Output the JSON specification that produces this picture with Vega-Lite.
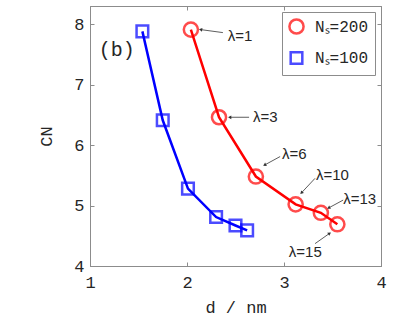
{
  "$schema": "https://vega.github.io/schema/vega-lite/v6.json",
  "width": 291,
  "height": 260,
  "autosize": "none",
  "padding": {"left": 90, "top": 6, "right": 26, "bottom": 66},
  "background": "white",
  "config": {
    "view": {"stroke": "#8c8c8c", "strokeWidth": 1},
    "axis": {
      "grid": false,
      "domainColor": "#8c8c8c",
      "tickColor": "#8c8c8c",
      "labelColor": "#262626",
      "titleColor": "#262626",
      "labelFont": "Liberation Mono",
      "titleFont": "Liberation Mono",
      "labelFontSize": 17,
      "titleFontSize": 17,
      "titleFontWeight": "normal",
      "tickSize": -4
    }
  },
  "datasets": {
    "main": [
      {"d": 2.04, "cn": 7.91, "series": "200"},
      {"d": 2.33, "cn": 6.46, "series": "200"},
      {"d": 2.71, "cn": 5.48, "series": "200"},
      {"d": 3.12, "cn": 5.02, "series": "200"},
      {"d": 3.38, "cn": 4.88, "series": "200"},
      {"d": 3.55, "cn": 4.69, "series": "200"},
      {"d": 1.54, "cn": 7.88, "series": "100"},
      {"d": 1.75, "cn": 6.41, "series": "100"},
      {"d": 2.01, "cn": 5.28, "series": "100"},
      {"d": 2.30, "cn": 4.81, "series": "100"},
      {"d": 2.50, "cn": 4.67, "series": "100"},
      {"d": 2.62, "cn": 4.59, "series": "100"}
    ],
    "notes": [
      {"label": "λ=1", "tx": 2.42, "ty": 7.81, "ax": 2.37, "ay": 7.86, "bx": 2.14, "by": 7.91},
      {"label": "λ=3", "tx": 2.68, "ty": 6.46, "ax": 2.64, "ay": 6.46, "bx": 2.44, "by": 6.46},
      {"label": "λ=6", "tx": 2.98, "ty": 5.86, "ax": 2.96, "ay": 5.81, "bx": 2.80, "by": 5.67},
      {"label": "λ=10", "tx": 3.33, "ty": 5.50, "ax": 3.32, "ay": 5.45, "bx": 3.18, "by": 5.21},
      {"label": "λ=13", "tx": 3.61, "ty": 5.10, "ax": 3.61, "ay": 5.09, "bx": 3.46, "by": 4.96},
      {"label": "λ=15", "tx": 3.05, "ty": 4.23, "ax": 3.32, "ay": 4.37, "bx": 3.47, "by": 4.54}
    ]
  },
  "layer": [
    {
      "data": {"name": "main"},
      "mark": {"type": "line", "strokeWidth": 2.5},
      "encoding": {
        "x": {"field": "d", "type": "quantitative", "scale": {"domain": [1, 4], "nice": false, "zero": false},
              "axis": {"values": [1, 2, 3, 4], "title": "d / nm", "labelPadding": 12, "titlePadding": 9, "labelFlush": false}},
        "y": {"field": "cn", "type": "quantitative", "scale": {"domain": [4, 8.3], "nice": false, "zero": false},
              "axis": {"values": [4, 5, 6, 7, 8], "title": "CN", "labelPadding": 10, "titlePadding": 18}},
        "color": {"field": "series", "type": "nominal",
                  "scale": {"domain": ["200", "100"], "range": ["#ff0000", "#0000ff"]}},
        "detail": {"field": "series"}
      }
    },
    {
      "data": {"name": "main"},
      "mark": {"type": "point", "filled": false, "strokeWidth": 2.5},
      "encoding": {
        "x": {"field": "d", "type": "quantitative", "axis": null},
        "y": {"field": "cn", "type": "quantitative", "axis": null},
        "color": {"field": "series", "type": "nominal",
                  "scale": {"domain": ["200", "100"], "range": ["#ff0000", "#0000ff"]},
                  "legend": {"title": null, "orient": "top-right", "offset": 6,
                             "labelExpr": "'Nₛ=' + datum.label",
                             "labelFont": "Liberation Mono", "labelFontSize": 16, "labelColor": "#262626",
                             "strokeColor": "#8c8c8c", "fillColor": "white", "padding": 6,
                             "symbolSize": 150, "symbolStrokeWidth": 2.5, "rowPadding": 8, "labelOffset": 10}},
        "shape": {"field": "series", "type": "nominal",
                  "scale": {"domain": ["200", "100"], "range": ["circle", "square"]}},
        "size": {"field": "series", "type": "nominal",
                 "scale": {"domain": ["200", "100"], "range": [200, 135]}, "legend": null}
      }
    },
    {
      "data": {"name": "notes"},
      "mark": {"type": "rule", "color": "#333333", "strokeWidth": 0.8},
      "encoding": {
        "x": {"field": "ax", "type": "quantitative", "axis": null},
        "y": {"field": "ay", "type": "quantitative", "axis": null},
        "x2": {"field": "bx"},
        "y2": {"field": "by"}
      }
    },
    {
      "data": {"name": "notes"},
      "transform": [
        {"calculate": "atan2((datum.bx - datum.ax) * 97, (datum.by - datum.ay) * 60.5) * 180 / PI", "as": "ang"}
      ],
      "mark": {"type": "point", "shape": "triangle-up", "filled": true, "color": "#333333", "size": 14, "opacity": 1},
      "encoding": {
        "x": {"field": "bx", "type": "quantitative", "axis": null},
        "y": {"field": "by", "type": "quantitative", "axis": null},
        "angle": {"field": "ang", "type": "quantitative", "scale": null}
      }
    },
    {
      "data": {"name": "notes"},
      "mark": {"type": "text", "align": "left", "baseline": "middle", "font": "Liberation Sans", "fontSize": 15, "color": "#262626"},
      "encoding": {
        "x": {"field": "tx", "type": "quantitative", "axis": null},
        "y": {"field": "ty", "type": "quantitative", "axis": null},
        "text": {"field": "label"}
      }
    },
    {
      "data": {"values": [{"x": 1.275, "y": 7.57, "t": "(b)"}]},
      "mark": {"type": "text", "align": "center", "baseline": "middle", "font": "Liberation Mono", "fontSize": 20, "color": "#262626"},
      "encoding": {
        "x": {"field": "x", "type": "quantitative", "axis": null},
        "y": {"field": "y", "type": "quantitative", "axis": null},
        "text": {"field": "t"}
      }
    },
    {
      "data": {"name": "main"},
      "mark": {"type": "point", "opacity": 0},
      "encoding": {
        "x": {"field": "d", "type": "quantitative",
              "axis": {"orient": "top", "values": [1, 2, 3, 4], "labels": false, "title": null}},
        "y": {"field": "cn", "type": "quantitative",
              "axis": {"orient": "right", "values": [4, 5, 6, 7, 8], "labels": false, "title": null}}
      }
    }
  ],
  "resolve": {"axis": {"x": "independent", "y": "independent"}}
}
